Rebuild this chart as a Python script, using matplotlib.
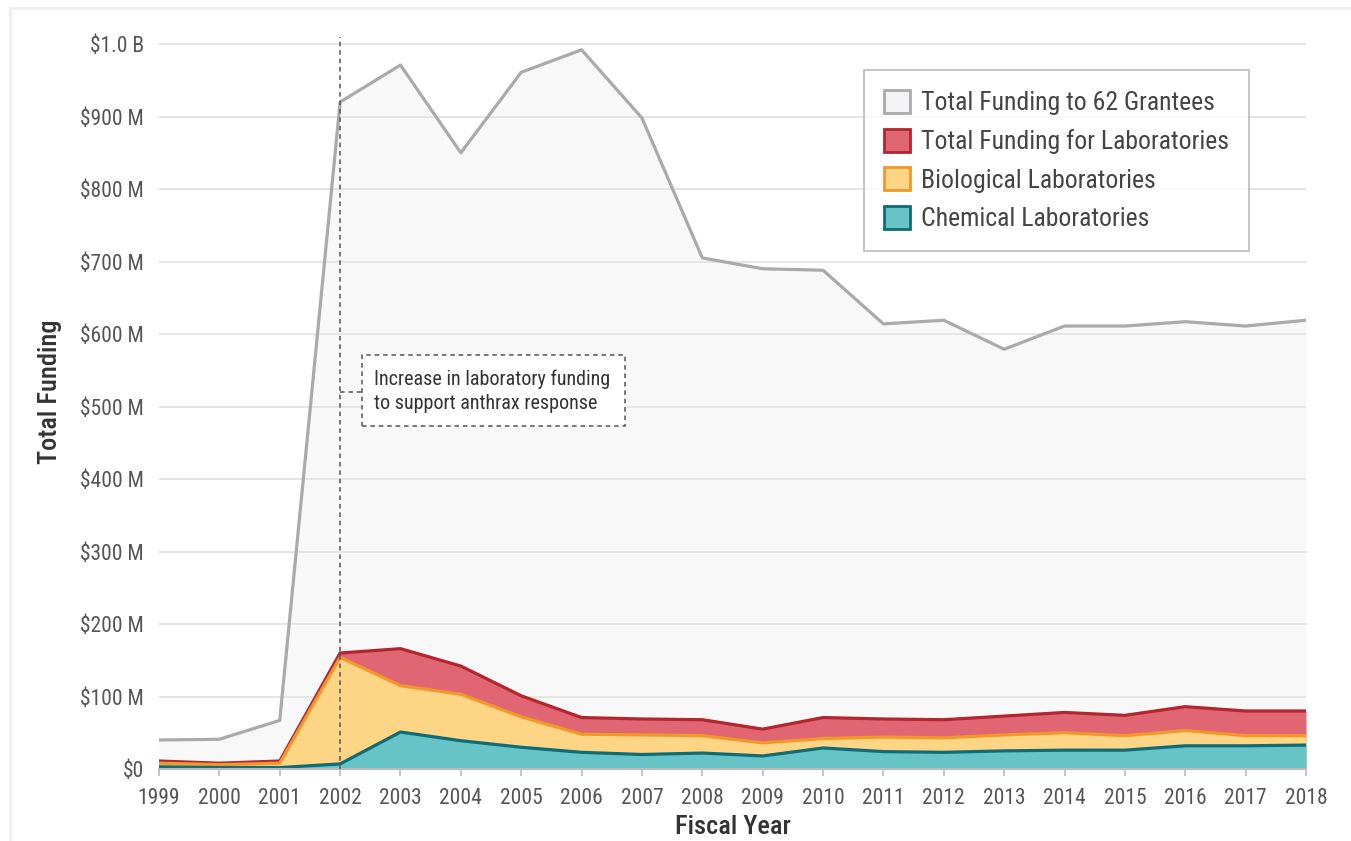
import matplotlib
matplotlib.use('Agg')
import matplotlib.pyplot as plt
from matplotlib.patches import Patch, Rectangle
from matplotlib.lines import Line2D

# ---------------- data (millions of dollars) ----------------
years = list(range(1999, 2019))
total_grantees = [40, 41, 67, 920, 971, 850, 961, 992, 898, 705,
                  690, 688, 614, 619, 579, 611, 611, 617, 611, 619]
total_labs = [11, 8, 11, 160, 166, 142, 101, 71, 69, 68,
              55, 71, 69, 68, 73, 78, 74, 86, 80, 80]
bio_labs = [8, 6, 8, 154, 115, 103, 72, 48, 47, 46,
            36, 42, 44, 43, 47, 50, 46, 53, 46, 46]
chem_labs = [3, 2, 2, 7, 51, 39, 30, 23, 20, 22,
             18, 29, 24, 23, 25, 26, 26, 32, 32, 33]
ytick_vals = [0, 100, 200, 300, 400, 500, 600, 700, 800, 900, 1000]
ytick_labels = ['$0', '$100 M', '$200 M', '$300 M', '$400 M', '$500 M',
                '$600 M', '$700 M', '$800 M', '$900 M', '$1.0 B']
legend_labels = ['Total Funding to 62 Grantees', 'Total Funding for Laboratories',
                 'Biological Laboratories', 'Chemical Laboratories']
annot_year = 2002
annot_text = 'Increase in laboratory funding\nto support anthrax response'

FONT = ['Roboto Condensed', 'Liberation Sans Narrow', 'DejaVu Sans']
plt.rcParams['font.family'] = FONT

W, H = 1351, 841
fig = plt.figure(figsize=(W / 100, H / 100), dpi=100)
fig.patch.set_facecolor('white')

ax = fig.add_axes([159 / W, 1 - 769 / H, (1306 - 159) / W, (769 - 37.5) / H])
ax.set_facecolor('white')

# styles
gray_fill, gray_line = '#f8f8f8', '#aaaaaa'
red_fill, red_line = '#e06673', '#b3262f'
yel_fill, yel_line = '#fdd584', '#f2982a'
teal_fill, teal_line = '#66c4c6', '#0f6b75'

ax.fill_between(years, 0, total_grantees, color=gray_fill, lw=0, zorder=1)
for v in ytick_vals[1:]:
    ax.axhline(v, color='#e3e3e3', lw=1.3, zorder=1.5)
ax.plot(years, total_grantees, color=gray_line, lw=2.3, zorder=2)

ax.fill_between(years, 0, total_labs, color=red_fill, lw=0, zorder=3)
ax.plot(years, total_labs, color=red_line, lw=2.3, zorder=3.1)
ax.fill_between(years, 0, bio_labs, color=yel_fill, lw=0, zorder=4)
ax.plot(years, bio_labs, color=yel_line, lw=2.3, zorder=4.1)
ax.fill_between(years, 0, chem_labs, color=teal_fill, lw=0, zorder=5)
ax.plot(years, chem_labs, color=teal_line, lw=2.3, zorder=5.1)

ax.set_xlim(years[0], years[-1])
ax.set_ylim(0, 1009)

# annotation
ax.plot([annot_year, annot_year], [0, 1010], color='#555555', lw=1.1,
        dashes=(3, 2.5), zorder=7, clip_on=False)
ax.plot([annot_year, 2002.36], [520, 520], color='#555555', lw=1.1,
        dashes=(3, 2.5), zorder=7)
ax.add_patch(Rectangle((2002.36, 473), 4.36, 98, facecolor='white',
                       edgecolor='#555555', lw=1.1, linestyle=(0, (3, 2.5)), zorder=7))
ax.text(2002.56, 521, annot_text, ha='left', va='center', fontsize=14.5,
        color='#333333', linespacing=1.35, zorder=8)

# axes styling
for s in ['top', 'right', 'left']:
    ax.spines[s].set_visible(False)
ax.spines['bottom'].set_color('#bbbbbb')
ax.spines['bottom'].set_linewidth(1.5)
ax.spines['bottom'].set_zorder(6)
ax.set_xticks(years)
ax.set_xticklabels([str(y) for y in years])
ax.set_yticks(ytick_vals)
ax.set_yticklabels(ytick_labels)
ax.tick_params(axis='x', length=5, width=1.2, color='#bbbbbb', pad=9,
               labelsize=15.5, labelcolor='#555555')
ax.tick_params(axis='y', length=0, pad=11, labelsize=15.5, labelcolor='#555555')

fig.text(50 / W, 1 - 392 / H, 'Total Funding', rotation=90, ha='center', va='center',
         fontsize=19, color='#333333', fontweight='medium')
fig.text(733 / W, 1 - 815 / H, 'Fiscal Year', ha='center', va='top',
         fontsize=19, color='#333333', fontweight='medium')

# legend
handles = [Patch(facecolor='#f3f3f5', edgecolor=gray_line, lw=2),
           Patch(facecolor=red_fill, edgecolor=red_line, lw=2),
           Patch(facecolor=yel_fill, edgecolor=yel_line, lw=2),
           Patch(facecolor=teal_fill, edgecolor=teal_line, lw=2)]
leg = fig.legend(handles, legend_labels, loc='upper left',
                 bbox_to_anchor=(864 / W, 1 - 70 / H), bbox_transform=fig.transFigure,
                 fontsize=18.5, frameon=True, fancybox=False, borderaxespad=0,
                 handlelength=1.0, handleheight=1.0, handletextpad=0.45,
                 labelspacing=0.52, borderpad=0.78, labelcolor='#444444')
leg.get_frame().set_edgecolor('#aaaaaa')
leg.get_frame().set_linewidth(1.2)

# outer frame lines
fig.add_artist(Line2D([10 / W, 10 / W], [0, 1 - 8 / H], color='#eeeeee', lw=2,
                      transform=fig.transFigure))
fig.add_artist(Line2D([10 / W, 1], [1 - 8 / H, 1 - 8 / H], color='#eeeeee', lw=2,
                      transform=fig.transFigure))

fig.savefig('out.png', dpi=100)
